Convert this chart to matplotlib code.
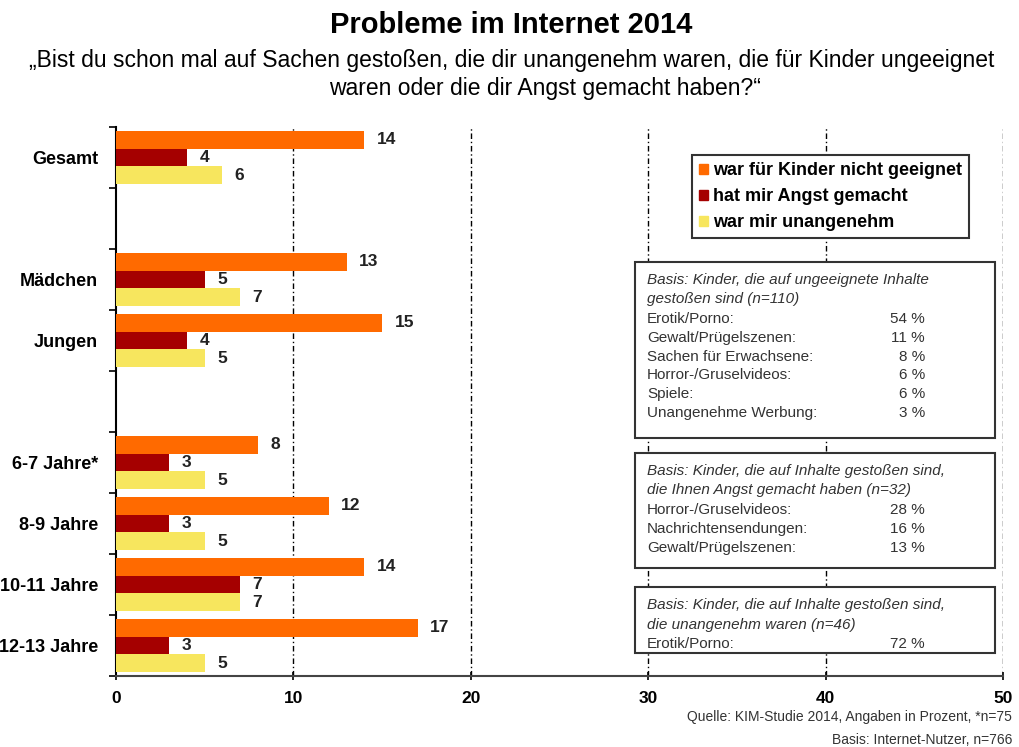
import matplotlib.pyplot as plt
from matplotlib.patches import Rectangle, Patch

plt.rcParams['font.family'] = ['Liberation Sans', 'DejaVu Sans']

# Data (Angaben in Prozent)
categories = ['Gesamt', 'Mädchen', 'Jungen', '6-7 Jahre*', '8-9 Jahre', '10-11 Jahre', '12-13 Jahre']
ungeeignet = [14, 13, 15, 8, 12, 14, 17]
angst = [4, 5, 4, 3, 3, 7, 3]
unangenehm = [6, 7, 5, 5, 5, 7, 5]
series_names = ['war für Kinder nicht geeignet', 'hat mir Angst gemacht', 'war mir unangenehm']
colors = ['#FF6A00', '#A50000', '#F7E65E']

box1_head = ['Basis: Kinder, die auf ungeeignete Inhalte', 'gestoßen sind (n=110)']
box1_items = ['Erotik/Porno:', 'Gewalt/Prügelszenen:', 'Sachen für Erwachsene:',
              'Horror-/Gruselvideos:', 'Spiele:', 'Unangenehme Werbung:']
box1_vals = [54, 11, 8, 6, 6, 3]
box2_head = ['Basis: Kinder, die auf Inhalte gestoßen sind,', 'die Ihnen Angst gemacht haben (n=32)']
box2_items = ['Horror-/Gruselvideos:', 'Nachrichtensendungen:', 'Gewalt/Prügelszenen:']
box2_vals = [28, 16, 13]
box3_head = ['Basis: Kinder, die auf Inhalte gestoßen sind,', 'die unangenehm waren (n=46)']
box3_items = ['Erotik/Porno:']
box3_vals = [72]

# slot index of each category (empty slots separate the blocks)
slots = [0, 2, 3, 5, 6, 7, 8]

W, H = 1019, 747
fig = plt.figure(figsize=(W / 100, H / 100), dpi=100)
ax = fig.add_axes([116 / W, 1 - 676 / H, (1003 - 116) / W, (676 - 127) / H])

bh = 0.29
for k, (vals, col) in enumerate(zip([ungeeignet, angst, unangenehm], colors)):
    ys = [s + (k - 1) * bh for s in slots]
    ax.barh(ys, vals, height=bh, color=col, zorder=3, label=series_names[k])
    for y, v in zip(ys, vals):
        ax.text(v + 0.7, y, str(v), va='center', ha='left', fontsize=12.5,
                fontweight='bold', color='#222222', zorder=4)

ax.set_xlim(0, 50)
ax.set_ylim(8.5, -0.5)
ax.set_xticks(range(0, 51, 10))
ax.set_xticklabels([str(t) for t in range(0, 51, 10)], fontsize=12.5, fontweight='bold')
ax.set_yticks([i - 0.5 for i in range(10)], minor=False)
ax.set_yticklabels([])
ax.set_yticks(slots, minor=True)
ax.set_yticklabels(categories, minor=True, fontsize=13, fontweight='bold')
ax.tick_params(axis='y', which='minor', length=0, pad=13)
ax.tick_params(axis='y', which='major', length=5, direction='out', width=1.2)
ax.tick_params(axis='x', length=6, direction='inout', width=1.2, pad=8)
for x in range(10, 51, 10):
    ax.axvline(x, color='black', lw=1, linestyle=(0, (4, 2, 1, 2)), zorder=1)
for s in ['top', 'right']:
    ax.spines[s].set_visible(False)
ax.spines['left'].set_linewidth(1.5)
ax.spines['bottom'].set_linewidth(1.5)
ax.spines['bottom'].set_color('#444444')

# legend
handles = [Patch(color=c) for c in colors]
leg = fig.legend(handles, series_names, loc='upper left',
                 bbox_to_anchor=(692 / W, 1 - 155 / H), borderaxespad=0,
                 frameon=True, fancybox=False,
                 edgecolor='#333333', framealpha=1, handlelength=0.5, handleheight=0.5,
                 handletextpad=0.25, borderpad=0.4, labelspacing=0.5,
                 prop={'size': 13, 'weight': 'bold'})
leg.get_frame().set_linewidth(1.5)


def info_box(top, bottom, head, items, vals):
    fig.add_artist(Rectangle((635 / W, 1 - bottom / H), 360 / W, (bottom - top) / H,
                             transform=fig.transFigure, facecolor='white',
                             edgecolor='#333333', lw=1.5, zorder=5))
    y = top + 18
    for line in head:
        fig.text(647 / W, 1 - y / H, line, fontsize=11, style='italic',
                 color='#333333', va='center', ha='left', zorder=6)
        y += 19.5
    for name, v in zip(items, vals):
        fig.text(647 / W, 1 - y / H, name, fontsize=11, color='#333333',
                 va='center', ha='left', zorder=6)
        fig.text(925 / W, 1 - y / H, f'{v} %', fontsize=11, color='#333333',
                 va='center', ha='right', zorder=6)
        y += 18.8


info_box(262, 438, box1_head, box1_items, box1_vals)
info_box(453, 568, box2_head, box2_items, box2_vals)
info_box(587, 653, box3_head, box3_items, box3_vals)

fig.text(511 / W, 1 - 25 / H, 'Probleme im Internet 2014', fontsize=21,
         fontweight='bold', ha='center', va='center')
fig.text(512 / W, 1 - 60 / H,
         '„Bist du schon mal auf Sachen gestoßen, die dir unangenehm waren, die für Kinder ungeeignet',
         fontsize=16.5, ha='center', va='center')
fig.text(545 / W, 1 - 89 / H, 'waren oder die dir Angst gemacht haben?“',
         fontsize=16.5, ha='center', va='center')
fig.text(1012 / W, 1 - 717 / H, 'Quelle: KIM-Studie 2014, Angaben in Prozent, *n=75',
         fontsize=10, ha='right', va='center', color='#333333')
fig.text(1012 / W, 1 - 740 / H, 'Basis: Internet-Nutzer, n=766',
         fontsize=10, ha='right', va='center', color='#333333')

fig.savefig('out.png', dpi=100)
